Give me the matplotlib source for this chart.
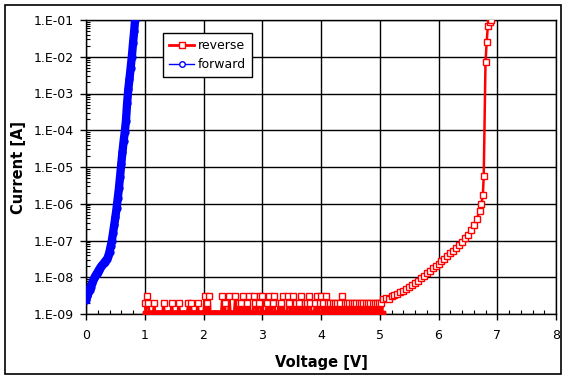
import numpy as np
import matplotlib
matplotlib.use("Agg")
import matplotlib.pyplot as plt
from matplotlib.lines import Line2D
from matplotlib.patches import Rectangle
from matplotlib.ticker import FixedLocator, FuncFormatter, LogLocator, MultipleLocator

# forward sweep: voltage [V] and current [A]
fwd_v = [0.00, 0.02, 0.04, 0.06, 0.08, 0.10, 0.12, 0.14, 0.16, 0.18,
         0.20, 0.22, 0.24, 0.26, 0.28, 0.30, 0.32, 0.34, 0.36, 0.38,
         0.40, 0.42, 0.44, 0.46, 0.48, 0.50, 0.52, 0.54, 0.56, 0.58,
         0.60, 0.62, 0.64, 0.66, 0.68, 0.70, 0.72, 0.74, 0.76, 0.78,
         0.80, 0.82, 0.835]
fwd_i = [2.4e-9, 3.0e-9, 3.8e-9, 4.6e-9, 5.6e-9, 6.8e-9, 8.2e-9, 9.5e-9, 1.1e-8, 1.25e-8,
         1.4e-8, 1.6e-8, 1.8e-8, 2.0e-8, 2.2e-8, 2.4e-8, 2.65e-8, 2.9e-8, 3.2e-8, 3.8e-8,
         5.0e-8, 7.0e-8, 1.0e-7, 1.6e-7, 2.6e-7, 4.3e-7, 7.5e-7, 1.4e-6, 2.6e-6, 5.5e-6,
         1.2e-5, 2.5e-5, 5.0e-5, 9.0e-5, 1.8e-4, 5.5e-4, 1.3e-3, 2.5e-3, 5.0e-3, 1.0e-2,
         2.3e-2, 5.0e-2, 1.0e-1]

# reverse sweep, noise floor 1.00 .. 5.04 V in 0.02 V steps (values in nA)
rev_floor_na = ("2132111121111111211111121"
                "1111211111112121111121111"
                "1312131111111111312111311"
                "1131121213112131113211231"
                "3111213112311121213111321"
                "1311212131121213211121312"
                "3121312121212121213121212"
                "1212121212121212121212122"
                "121")
rev_floor_v = [round(1.00 + 0.02 * k, 2) for k in range(len(rev_floor_na))]
rev_floor_i = [int(c) * 1e-9 for c in rev_floor_na]

# reverse sweep, breakdown region
rev_bd_v = [5.06, 5.10, 5.15, 5.20, 5.25, 5.30, 5.35, 5.40, 5.45, 5.50,
            5.55, 5.60, 5.65, 5.70, 5.75, 5.80, 5.85, 5.90, 5.95, 6.00,
            6.05, 6.10, 6.15, 6.20, 6.25, 6.30, 6.35, 6.40, 6.45, 6.50,
            6.55, 6.60, 6.65, 6.70, 6.73, 6.755, 6.77, 6.80, 6.82, 6.84,
            6.88, 6.90]
rev_bd_i = [2.5e-9, 2.8e-9, 2.6e-9, 3.0e-9, 3.2e-9, 3.6e-9, 4.0e-9, 4.3e-9, 4.8e-9, 5.3e-9,
            6.0e-9, 7.0e-9, 8.0e-9, 9.5e-9, 1.1e-8, 1.3e-8, 1.5e-8, 1.75e-8, 2.0e-8, 2.3e-8,
            2.7e-8, 3.2e-8, 3.8e-8, 4.5e-8, 5.3e-8, 6.4e-8, 7.6e-8, 9.2e-8, 1.15e-7, 1.45e-7,
            1.9e-7, 2.6e-7, 3.8e-7, 6.5e-7, 1.0e-6, 1.7e-6, 5.8e-6, 7.0e-3, 2.5e-2, 7.0e-2,
            9.0e-2, 1.0e-1]

rev_v = rev_floor_v + rev_bd_v
rev_i = rev_floor_i + rev_bd_i

fig = plt.figure(figsize=(5.68, 3.80), dpi=100)
ax = fig.add_axes([86 / 568, 1 - 314 / 380, 470 / 568, 294 / 380])

# outer chart border
fig.patches.append(Rectangle((5 / 568, 6 / 380), 556 / 568, 369 / 380,
                             transform=fig.transFigure, fill=False,
                             edgecolor='black', linewidth=1.2))

ax.plot(rev_v, rev_i, color='#ff0000', linewidth=1.8, marker='s', markersize=4.8,
        markerfacecolor='white', markeredgecolor='#ff0000', markeredgewidth=1.0, zorder=3)
# floor points overlap into a solid band
floor_v = [v for v, i in zip(rev_floor_v, rev_floor_i) if i < 1.5e-9]
floor_i = [i for i in rev_floor_i if i < 1.5e-9]
ax.plot(floor_v, floor_i, linestyle='none', marker='s', markersize=4.5,
        markerfacecolor='#ff0000', markeredgecolor='#ff0000', zorder=3)

ax.plot(fwd_v, fwd_i, color='#0000ff', linewidth=6, solid_capstyle='round', zorder=4)
ax.plot(fwd_v, fwd_i, color='#0000ff', linewidth=0, marker='o', markersize=5,
        markerfacecolor='#0000ff', markeredgecolor='#0000ff', zorder=4)

ax.set_yscale('log')
ax.set_xlim(0, 8)
ax.set_ylim(1e-9, 1e-1)

ax.xaxis.set_major_locator(MultipleLocator(1))
ax.xaxis.set_minor_locator(MultipleLocator(0.2))
ax.yaxis.set_major_locator(FixedLocator([10.0 ** e for e in range(-9, 0)]))
ax.yaxis.set_minor_locator(LogLocator(base=10, subs=np.arange(2, 10)))
ax.yaxis.set_major_formatter(FuncFormatter(lambda v, p: "1.E%03d" % int(round(np.log10(v)))))
ax.yaxis.set_minor_formatter(FuncFormatter(lambda v, p: ""))

ax.tick_params(which='major', direction='out', length=4, width=1, labelsize=9, pad=5)
ax.tick_params(axis='x', which='major', pad=7)
ax.tick_params(which='minor', direction='in', length=3, width=0.8)
ax.grid(which='major', color='black', linewidth=1.0, zorder=0)
ax.set_axisbelow(True)
for s in ax.spines.values():
    s.set_linewidth(1.0)
    s.set_color('black')

ax.set_xlabel("Voltage [V]", fontsize=10.5, fontweight='bold', labelpad=9)
ax.set_ylabel("Current [A]", fontsize=10.5, fontweight='bold', labelpad=5)

handles = [
    Line2D([], [], color='#ff0000', linewidth=2, marker='s', markersize=5,
           markerfacecolor='white', markeredgecolor='#ff0000'),
    Line2D([], [], color='#0000ff', linewidth=1, marker='o', markersize=4,
           markerfacecolor='white', markeredgecolor='#0000ff'),
]
leg = ax.legend(handles, ["reverse", "forward"], loc='upper left',
                bbox_to_anchor=((163 - 86) / 470, (314 - 33) / 294),
                borderaxespad=0, fontsize=9, fancybox=False, framealpha=1,
                edgecolor='black', handlelength=2.0, handletextpad=0.3,
                borderpad=0.5, labelspacing=0.45)
leg.get_frame().set_linewidth(1.0)
leg.set_zorder(10)

fig.savefig("out.png", dpi=100)
